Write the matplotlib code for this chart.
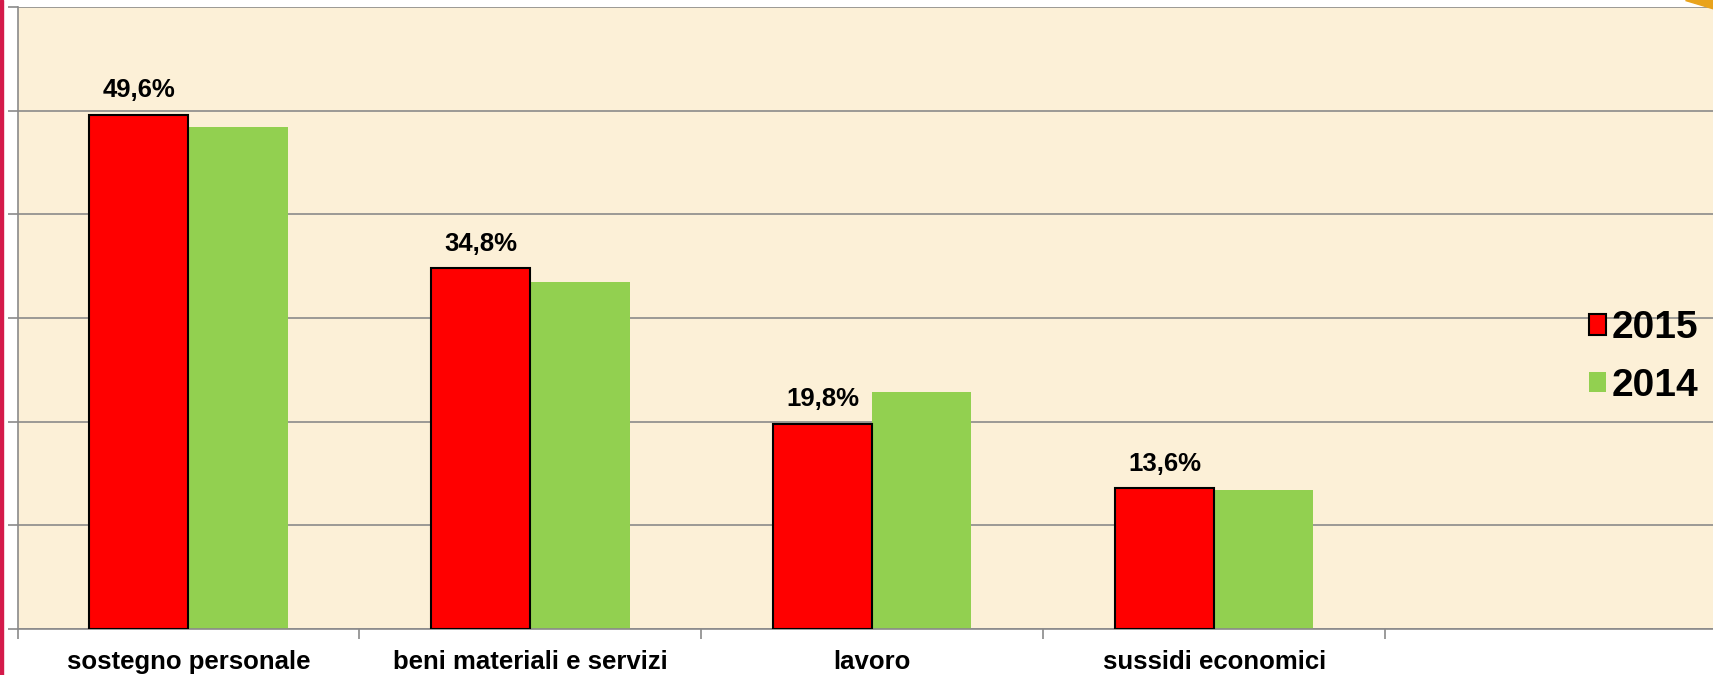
import matplotlib
matplotlib.use("Agg")
import matplotlib.pyplot as plt
from matplotlib.patches import Polygon, Rectangle
import numpy as np

plt.rcParams['font.family'] = ['Liberation Sans', 'DejaVu Sans']
plt.rcParams['font.weight'] = 'bold'

# data
categories = ['sostegno personale', 'beni materiali e servizi', 'lavoro', 'sussidi economici', '']
vals_2015 = [49.6, 34.8, 19.8, 13.6]
vals_2014 = [48.4, 33.5, 22.9, 13.4]
labels_2015 = ['49,6%', '34,8%', '19,8%', '13,6%']

W, H = 1713, 675
fig = plt.figure(figsize=(W / 100, H / 100), dpi=100)
fig.patch.set_facecolor('white')

# plot area spans 5 category slots, the last one runs a bit past the right edge
left, right, bottom, top = 17.5, 1727, 629, 7
ax = fig.add_axes([left / W, 1 - bottom / H, (right - left) / W, (bottom - top) / H])
ax.set_facecolor('#FCF0D7')

x = np.arange(len(vals_2015))
bw = 0.29
ax.bar(x - bw / 2, vals_2015, bw, color='#FF0000', edgecolor='black', linewidth=1.5,
       label='2015', zorder=3)
ax.bar(x + bw / 2, vals_2014, bw, color='#92D050', linewidth=0, label='2014', zorder=2)

for xi, v, t in zip(x, vals_2015, labels_2015):
    ax.annotate(t, (xi - bw / 2, v), xytext=(0, 9), textcoords='offset points',
                ha='center', va='bottom', fontsize=18.5, fontweight='bold')

ax.set_xlim(-0.5, len(categories) - 0.5)
ax.set_ylim(0, 60)
ax.set_yticks(np.arange(0, 61, 10))
ax.set_yticklabels([])
ax.yaxis.grid(True, color='#8A8A8A', linewidth=1.2, zorder=0)
ax.set_axisbelow(True)

ax.set_xticks(np.arange(len(categories)))
ax.set_xticklabels(categories, fontsize=18.5, fontweight='bold')
ax.tick_params(axis='x', which='major', length=0, pad=15)
ax.set_xticks(np.arange(len(categories)) - 0.5, minor=True)
ax.tick_params(axis='x', which='minor', length=7, width=1.2, color='#8A8A8A', direction='out')
ax.tick_params(axis='y', length=7, width=1.2, color='#8A8A8A', direction='out')

for s in ['top', 'right']:
    ax.spines[s].set_visible(False)
for s in ['left', 'bottom']:
    ax.spines[s].set_color('#8A8A8A')
    ax.spines[s].set_linewidth(1.2)

fig.legend(loc='center left', bbox_to_anchor=(1589 / W, 1 - 357 / H), frameon=False,
           borderaxespad=0, borderpad=0, prop={'size': 28, 'weight': 'bold'},
           handlelength=0.44, handleheight=0.44, handletextpad=0.15, labelspacing=0.55)

# decorative slide bits: red strip on the left, orange corner top right
fig.patches.append(Rectangle((0, 0), 3 / W, 1, transform=fig.transFigure,
                             color='#D41A4A', zorder=5))
fig.patches.append(Polygon([(1685 / W, 1), (1 + 0.001, 1), (1 + 0.001, 1 - 9 / H)],
                           closed=True, transform=fig.transFigure, color='#E9A31B', zorder=5))

fig.savefig('out.png', dpi=100, facecolor='white')
